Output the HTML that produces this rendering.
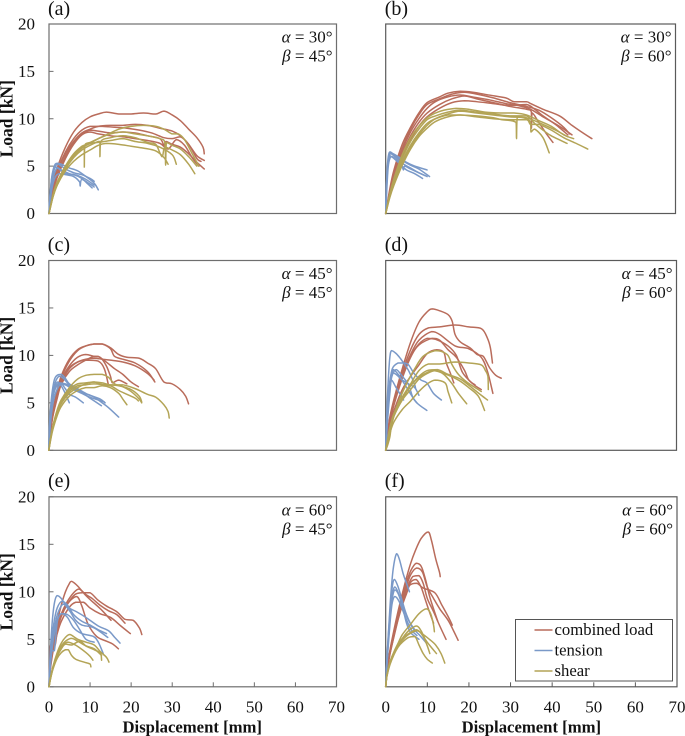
<!DOCTYPE html>
<html lang="en">
<head>
<meta charset="utf-8">
<title>Load-displacement curves</title>
<style>
html,body{margin:0;padding:0;background:#fff;}
svg{display:block;filter:blur(0.3px);}
text{font-family:"Liberation Serif",serif;fill:#111;}
</style>
</head>
<body>
<svg id="chart" xmlns="http://www.w3.org/2000/svg" width="685" height="736" viewBox="0 0 685 736"></svg>
<script>
const xTickLabels = [0, 10, 20, 30, 40, 50, 60, 70];
const yTickLabels = [0, 5, 10, 15, 20];
const seriesNames = ['combined load', 'tension', 'shear'];

const aCombined = [
 [[0,0],[1,3],[2,4.8],[4,7],[6,8.6],[8,9.6],[10,10.2],[12,10.5],[14,10.7],[17,10.5],[20,10.5],[23,10.6],[26,10.5],[28,10.8],[30,10.4],[32,9.8],[34,8.9],[36,8],[37.5,7],[37.8,6.3]],
 [[0,0],[1,2.7],[2,4.3],[4,6.3],[6,7.6],[8,8.5],[10,8.9],[12,9.2],[15,9.3],[18,9.3],[21,9.4],[24,9.3],[27,9],[30,8.7],[32,8.2],[34,7.3],[36,6.1],[37.8,5.6]],
 [[0,0],[1,2.5],[2,4],[4,6],[6,7.5],[8,8.4],[10,8.8],[12,8.7],[15,8.5],[18,8.6],[21,8.5],[24,8.2],[27,7.9],[28,7.2],[28.5,7.6],[30,7.3],[32,7],[34,6.3],[36,5.4],[37.8,4.7]],
 [[0,0],[1,2.3],[2,3.8],[4,5.8],[6,7.3],[8,8.3],[10,8.6],[12,8.4],[15,8.2],[18,8.1],[21,7.9],[24,7.7],[27,7.4],[29,6.8],[31,7.8],[33,7.2],[35,5.8],[36.5,5]],
 [[0,0],[1,2.9],[2,4.5],[4,6.5],[6,7.9],[8,8.8],[10,9.2],[13,9.2],[16,9.1],[19,9],[22,8.8],[25,8.5],[28,8],[30,7.9],[32,8.1],[34,7.3],[36,5.8],[37,5.5]]
];
const aTension = [
 [[0,0],[0.3,2],[0.6,3.6],[1,4.6],[1.5,5.2],[2,5.3],[3,5.2],[4,5],[5,4.8],[7,4.5],[9,3.9],[11,3.2],[12,2.5]],
 [[0,0],[0.3,2.2],[0.7,3.8],[1.2,4.7],[1.8,4.9],[3,4.6],[5,4.2],[7,4],[9,3.6],[11,3]],
 [[0,0],[0.3,1.8],[0.8,3.3],[1.3,4.2],[2,4.8],[3,4.5],[4,4.2],[6,4.1],[8,3.7],[9.5,3.1],[10.5,2.7]],
 [[0,0],[0.4,1.7],[0.9,3],[1.6,3.9],[2.5,4.2],[4,4.1],[6,3.9],[7.5,3.3],[7.6,2.9],[8,3.6],[10,3.1],[11,2.8]],
 [[0,0],[0.3,2.1],[0.8,3.7],[1.4,4.8],[2.2,5.2],[4,4.7],[6,4.3],[8,4.1],[10,3.7],[11,3.4]]
];
const aShear = [
 [[0,0],[1,2],[2,3.3],[4,5],[6,6.2],[8,7],[10,7.4],[12,7.9],[14,8.3],[17,8.9],[20,9.2],[23,9.3],[26,9.2],[28,8.9],[30,8.4],[31.5,8.4],[33,7.8],[35,6.2],[36.5,5]],
 [[0,0],[1,2],[2,3.3],[4,5],[6,6.3],[8,7.1],[8.6,7.2],[8.6,4.9],[8.7,7.2],[10,7.5],[12,7.9],[15,8.4],[18,8.6],[21,8.4],[24,8.2],[27,7.9],[28.2,7.5],[28.4,5.1],[28.6,7.5],[30,7.2],[32,6.8],[34,6],[36,5]],
 [[0,0],[1,1.8],[2,3],[4,4.7],[6,5.9],[8,6.7],[10,7.2],[12,7.6],[12.4,7.6],[12.4,6],[12.6,7.6],[15,8],[18,8.2],[21,8],[24,7.5],[26,7.3],[27.5,6],[28.2,7],[30,6.7],[32,6.2],[34,5.2],[35.5,4.2]],
 [[0,0],[1,1.8],[2,3],[4,4.5],[6,5.5],[8,6.2],[10,6.7],[12,7.2],[14,7.4],[17,7.3],[20,7.1],[23,6.9],[26,6.6],[28,5.9],[29,5.2]],
 [[0,0],[1,1.9],[2,3.2],[4,4.9],[6,6.1],[8,6.9],[10,7.4],[12,7.5],[15,7.7],[18,7.9],[21,7.6],[24,7.4],[27,7],[30,6.2],[31,5.2]]
];

const bCombined = [
 [[0,0],[1,2.6],[2,4.6],[4,7.3],[6,9.1],[8,10.6],[10,11.7],[13,12.3],[15,12.7],[18,12.9],[21,12.8],[25,12.5],[29,12.2],[31,11.8],[34,11.8],[35,11.6],[38,11],[42,10.3],[45,9.3],[48,8.4],[49.8,7.9]],
 [[0,0],[1,2.4],[2,4.3],[4,6.9],[6,8.9],[8,10.4],[10,11.5],[13,12.1],[16,12.6],[19,12.8],[22,12.6],[26,12.2],[30,11.7],[34,11.3],[37,10.9],[40,10.1],[43,9.1],[44.4,8.4]],
 [[0,0],[1,2.2],[2,3.9],[4,6.4],[6,8.2],[8,9.6],[10,10.6],[13,11.5],[16,12.1],[19,12.4],[22,12.1],[26,11.7],[30,11.3],[34,11],[35.2,10.7],[35.2,9],[35.4,10.6],[37,9.6],[39,8.3],[40.4,7.5]],
 [[0,0],[1,2],[2,3.6],[4,6],[6,7.8],[8,9.2],[10,10.2],[13,11.1],[16,11.7],[19,11.9],[22,11.8],[26,11.6],[30,11.4],[34,11.5],[36,11],[38,10.3],[41,9.4],[44,8.3]],
 [[0,0],[1,2.3],[2,4.1],[4,6.7],[6,8.6],[8,10],[10,11.1],[12,11.8],[15,12.3],[18,12.5],[21,12.3],[25,12],[29,11.6],[32,11.4],[35,11],[38,10.2],[42,9.2],[45,8.3]]
];
const bTension = [
 [[0,0],[0.2,3],[0.4,5],[0.7,6.2],[1.1,6.5],[2,6.2],[4,5.6],[6,5.1],[8,4.7],[10.6,3.9]],
 [[0,0],[0.2,2.6],[0.5,4.8],[0.8,5.9],[1.2,6.3],[2.5,5.9],[4,5.3],[6,4.8],[8,4.3],[10,3.9]],
 [[0,0],[0.2,2.8],[0.4,4.6],[0.7,5.7],[1,6.1],[2,5.8],[3.5,5.2],[5,4.6],[7,4.2],[8.9,3.7]],
 [[0,0],[0.2,3.2],[0.5,5.2],[0.8,6.1],[1.3,6.4],[3,6],[5,5.4],[7,5],[10,4.6]],
 [[0,0],[0.3,2.8],[0.6,4.9],[1,5.8],[1.6,6],[3,5.5],[4,4.9],[4.3,4.6],[4.6,5],[6,4.7],[8,4.3],[9.5,4]]
];
const bShear = [
 [[0,0],[1,2.1],[2,3.7],[4,6.2],[6,8],[8,9.2],[10,10.1],[12,10.6],[14,10.9],[17,11.1],[20,11],[24,10.7],[28,10.6],[31,10.6],[34,10.4],[37,9.8],[40,9.2],[43,8.3],[45.4,7.9]],
 [[0,0],[1,2],[2,3.5],[4,5.8],[6,7.6],[8,8.9],[10,9.9],[12,10.3],[15,10.7],[18,10.9],[22,10.7],[26,10.5],[30,10.3],[34,10.3],[36,9.5],[38,8.8],[40,8.2],[43.8,7.4]],
 [[0,0],[1,1.9],[2,3.3],[4,5.5],[6,7.2],[8,8.5],[10,9.5],[12,10],[15,10.4],[18,10.4],[22,10.3],[26,10.1],[28,9.9],[31.5,9.6],[31.6,7.9],[31.8,10.2],[34,10],[35,9.6],[35.1,8.6],[36,8.9],[38,8],[39.5,6.4]],
 [[0,0],[1,1.7],[2,3],[4,5.1],[6,6.8],[8,8.1],[10,9],[12,9.7],[15,10.2],[18,10.4],[22,10.2],[26,10],[30,9.9],[34,9.9],[35,9.4],[37,9.4],[40,8.8],[43,8],[46,7.4],[48.8,6.8]],
 [[0,0],[1,1.8],[2,3.2],[4,5.3],[6,7],[8,8.3],[10,9.3],[12,10],[15,10.5],[18,10.8],[22,10.6],[26,10.4],[30,10.2],[34,10.1],[38,9.4],[41,8.8],[44,8.1]]
];

const cCombined = [
 [[0,0],[0.5,2.5],[1,4.2],[2,6.2],[3,7.8],[5,9.6],[7,10.6],[9,11],[11,11.2],[13,11.2],[15,10.8],[17,10.1],[19,9.8],[22,9.7],[24,9.2],[26,8.6],[28,7.2],[30,7],[32,6.4],[33.3,5.7],[34,4.9]],
 [[0,0],[0.5,2.4],[1,4],[2,6],[3,7.6],[5,9.4],[7,10.5],[9,11],[11,11.2],[13,11.2],[15,10.7],[16,9.9],[18,9.6],[21,9.2],[24,8.3],[25.8,7.2]],
 [[0,0],[0.5,2.3],[1,3.9],[2,5.8],[3,7.4],[5,8.9],[7,9.8],[9,10.1],[11,9.9],[12,9.9],[14,9.3],[16,8.6],[18,8],[20,7.2],[21.8,6.7]],
 [[0,0],[0.5,2.2],[1,3.7],[2,5.6],[3,7.1],[5,8.6],[7,9.3],[9,9.6],[11,9.7],[13,9.6],[15,9.5],[18,9.3],[21,8.9],[24,8.1],[25.6,7.4]],
 [[0,0],[0.5,2.1],[1,3.6],[2,5.4],[3,6.9],[5,8.3],[7,9],[9,9.5],[11,9.9],[12.5,9.8],[14,8.9],[15,7.8],[15.5,7.1],[17,7.4],[19,7]],
 [[0,0],[0.5,2.3],[1,3.8],[2,5.7],[3,7.2],[5,8.7],[7,9.3],[9,9.5],[12,9.4],[13.5,8.6],[14.5,6.9]]
];
const cTension = [
 [[0,0],[0.2,2.6],[0.5,4.8],[0.9,6.4],[1.4,7.5],[2,7.9],[3,8],[4,7.6],[5,7],[7,6.5],[9,6],[11,5.6],[13,5],[14.5,4.5],[17,3.5]],
 [[0,0],[0.2,2.4],[0.5,4.3],[1,6],[1.6,7.2],[2.5,7.8],[3.5,7.6],[5,6.9],[7,6.3],[10,5.8],[12.5,5.4],[13.7,5]],
 [[0,0],[0.3,2.6],[0.6,4.2],[1.1,5.7],[1.7,6.7],[2.5,7.1],[4,7],[6,6.6],[8,6.1],[10,5.5],[12.8,4.7]],
 [[0,0],[0.3,2.2],[0.7,4],[1.2,5.3],[2,6.4],[3,7],[4,6.5],[5,5.9],[6.5,5.6],[8.4,5]],
 [[0,0],[0.2,2.8],[0.5,4.5],[0.9,5.8],[1.5,6.8],[2.2,7.2],[3,6.8],[4,6],[5,5]],
 [[0,0],[0.3,2.4],[0.6,4.3],[1,5.6],[1.5,6.4],[2.5,7],[4,6.9],[6,6.4],[8,6],[10,5.6],[13.5,5.1]]
];
const cShear = [
 [[0,0],[0.5,1.5],[1,2.6],[2,4.2],[3,5.3],[5,6.6],[7,7.5],[9,7.9],[11,8],[13,8],[14.5,7.7],[16,7],[18,6.7],[20,6.2],[22,5.4],[22.6,5]],
 [[0,0],[0.5,1.4],[1,2.5],[2,4],[3,5.1],[5,6.4],[7,7],[9,7.1],[11,7.2],[13,7.1],[15,6.9],[18,6.9],[21,6.5],[24,5.9],[26,5.6],[28,4.8],[29,4.1],[29.3,3.4]],
 [[0,0],[0.5,1.3],[1,2.4],[2,3.8],[3,4.9],[5,6],[7,6.6],[9,7],[11,7.2],[13,6.9],[15,6.8],[17,6.3],[19,5.9],[21,5.5],[21.8,5.2]],
 [[0,0],[0.5,1.2],[1,2.2],[2,3.6],[3,4.6],[5,5.7],[7,6.3],[9,6.6],[11,6.6],[13,6.8],[15,6.6],[17,6],[18,5.4],[19,4.8]],
 [[0,0],[0.5,1.4],[1,2.4],[2,3.9],[3,5],[5,6.2],[7,6.8],[9,6.9],[11,7],[14,6.9],[17,6.8],[20,6.4],[22,5.7],[22.6,5.1]]
];

const dCombined = [
 [[0,0],[0.5,2],[1,3.5],[2,5.4],[4,8.6],[6,11.4],[8,13.5],[10,14.6],[11.2,14.9],[13,14.7],[15,14.3],[16,13.6],[16.7,12.2],[18,11.4],[20.3,10.8],[22,10.1],[23.5,9.9],[25,8.7],[26.5,7.9],[27.8,7.6]],
 [[0,0],[0.5,1.8],[1,3.3],[2,5.2],[4,8.2],[6,10.6],[8,12.2],[10.3,12.9],[13,13],[16.7,13.2],[20,13],[23.1,12.8],[24.5,11.8],[25.2,10.8],[25.7,9.2]],
 [[0,0],[0.5,1.7],[1,3.1],[2,5],[4,7.9],[6,10.1],[8,11.6],[11,12.5],[13,12.2],[16.7,11],[20,10.7],[23,9.8],[24.5,8.3],[25.8,6]],
 [[0,0],[0.5,1.6],[1,3],[2,4.8],[4,7.6],[6,9.8],[8,11.1],[11.2,11.8],[13,11.6],[15,10.6],[17,9.8],[19,8.4],[20,7.4],[21.5,6.9]],
 [[0,0],[0.5,1.7],[1,3.1],[2,4.9],[4,7.8],[6,9.9],[8,11.2],[10,11.8],[12,11.7],[15,11],[17,10],[18.5,8.2],[21,7],[23,6.4]],
 [[0,0],[0.5,1.5],[1,2.7],[2,4.2],[4,6.4],[6,7.8],[8,9],[10,10.2],[12.3,10.6],[14,10.3],[14.6,9.2],[15.5,8.2],[16.4,7.1]]
];
const dTension = [
 [[0,0],[0.2,3],[0.4,5.4],[0.7,8],[1,9.8],[1.4,10.5],[2.5,10.2],[3.5,9.7],[4.3,9.2],[5.5,8.4],[7,6.9],[7.2,6.5]],
 [[0,0],[0.3,2.8],[0.6,5],[1,7],[1.6,8.6],[3,9.2],[4.5,9.2],[5.5,9],[7,8],[8.5,7.4],[9.9,7.1],[11.5,6],[13.4,5.3]],
 [[0,0],[0.3,2.5],[0.6,4.6],[1,6.6],[1.8,8.5],[3,8],[4.5,7],[5.9,6],[7.5,5],[9.9,4.2]],
 [[0,0],[0.3,2.2],[0.6,4],[1,6],[1.4,7.4],[2.5,6.6],[3.5,5.9],[4.3,5.3]],
 [[0,0],[0.2,2.6],[0.5,4.8],[0.9,7],[1.5,8.2],[2.5,8],[4,7.4],[5.5,7],[7,6.6],[8,5.8]],
 [[0,0],[0.3,2.4],[0.6,4.4],[1,6.4],[1.5,7.8],[2.5,8.5],[4,7.8],[5.5,6.9],[6.5,5.6],[7.5,5]]
];
const dShear = [
 [[0,0],[0.5,0.6],[1,1.4],[1.5,2.8],[3,5],[5,7],[7,8.6],[9,9.9],[11.9,10.5],[13.5,10.4],[15,10],[16,9],[17.5,8],[19.5,7.2],[22.3,6.4],[23,6.2]],
 [[0,0],[0.5,1],[1,2.2],[2,3.8],[4,5.6],[6,7],[8,8.4],[10.3,9.1],[13,9.1],[16.7,9.3],[20,9.2],[23,9],[24,8.4],[24.6,7.8],[24.7,6.4]],
 [[0,0],[0.5,1.2],[1,2.4],[2,3.9],[4,5.6],[6,6.8],[8,7.7],[10,8.2],[11.5,8.4],[14,8.1],[17.5,7.4],[20,6.6],[22.3,5.7],[23.8,4.2]],
 [[0,0],[0.5,1],[1,1.8],[2,3],[4,4.3],[6,5.2],[8,6.2],[10,7],[11.9,7.4],[14.3,7.1],[15,6.2],[15.9,5]],
 [[0,0],[0.5,1.1],[1,2.2],[2,3.6],[4,5.3],[6,6.4],[8,7.5],[10,8.1],[12,8.4],[14,8],[16,7],[17.5,6],[19.5,4.9]],
 [[0,0],[0.5,1.2],[1,2.3],[2,3.8],[4,5.4],[6,6.8],[8,7.8],[10,8.4],[12.5,8.5],[15,8],[18,7.5],[21,6.5],[23,5.8],[24.5,5.3]]
];

const eCombined = [
 [[0,0],[0.3,2],[0.7,3.6],[1.2,5],[2,6.8],[3,8.6],[4,10],[5,10.9],[5.5,11.1],[7,10.6],[9,9.6],[11,8.8],[13,8],[15.1,7]],
 [[0,0],[0.3,1.9],[0.7,3.4],[1.2,4.8],[2,6.3],[3,7.7],[4.5,9],[6,9.9],[7.3,10.3],[9,9.7],[10.5,9.3],[12.4,8.6],[14.5,8],[16.5,7.6],[18.5,6.7]],
 [[0,0],[0.3,1.8],[0.7,3.2],[1.2,4.6],[2,6],[3,7.4],[4.5,8.7],[6.3,9.7],[8,9.9],[10,9.9],[12,9.1],[14,8.5],[16.5,7.9],[18.5,7.1],[20.5,7],[22,6.2],[22.6,5.5]],
 [[0,0],[0.3,1.7],[0.7,3],[1.2,4.2],[2,5.6],[3,6.9],[5,8.4],[6.5,8.9],[8.4,8.9],[10,8.3],[12.4,7.7],[15,7.3],[17.5,6.4],[19.8,5.6]],
 [[0,0],[0.2,3],[0.4,4.4],[1.5,4.4],[2.2,6.5],[3.5,8],[5,9],[6.8,9.5],[8,8.5],[9.5,6.6],[11.6,5.3],[14,4.8],[15.5,4.5],[16.9,4]]
];
const eTension = [
 [[0,0],[0.2,2.5],[0.5,5],[0.9,7.4],[1.4,9],[2,9.6],[3,9.3],[4.5,8.4],[6.7,7.9],[9,7.3],[12,6.4],[14.5,5.9],[16,5.2],[17.3,4.6]],
 [[0,0],[0.3,2.6],[0.7,5],[1.3,7],[2,8.3],[3.1,9],[4.5,8.6],[6,7.6],[8,6.9],[10,6.5],[12,6],[14,5.6]],
 [[0,0],[0.3,2.2],[0.7,4.2],[1.3,6.2],[2.2,7.8],[3.5,8.7],[5,8],[6.5,7],[8,6.5],[11,6.2],[14.3,5.2]],
 [[0,0],[0.2,2.2],[0.5,3.8],[1.3,3.8],[1.8,6],[2.2,7.2],[3.1,7.7],[4.5,7.3],[6,6.2],[8,5.6],[10.8,5.3],[12,4.7],[13.2,3.5]],
 [[0,0],[0.3,2],[0.7,3.8],[1.3,5.6],[2,7],[3,7.7],[4.5,7.6],[6,7],[7.5,6],[9,5],[11,4.7]]
];
const eShear = [
 [[0,0],[0.4,1],[1,2.2],[2,3.6],[3,4.6],[4,5.2],[5.1,5.5],[7,5],[9,4.7],[11,4.4],[12.5,3.7],[14,3.1],[14.6,2.6]],
 [[0,0],[0.4,1],[1,2.1],[2,3.4],[3,4.3],[4,4.8],[5.5,5.1],[7,4.8],[9,4.3],[11,4],[12.8,3.3]],
 [[0,0],[0.4,0.9],[1,2],[2,3.2],[3,4],[4,4.5],[5.5,4.4],[7.5,4.8],[9,4.3],[11,3.9],[12.6,3.5],[12.8,2.8]],
 [[0,0],[0.4,0.9],[1,1.9],[2,3],[3,3.6],[4,3.9],[4.7,3.9],[5.5,3.3],[6.5,2.9],[8.5,2.6],[10,2.4],[10.2,2.1]],
 [[0,0],[0.4,1],[1,2.1],[2,3.3],[3,4.2],[4.5,4.7],[6,4.5],[7.5,4.1],[9,3.6],[10,3.2],[10.7,2.8]]
];

const fCombined = [
 [[0,0],[0.4,2],[1,3.8],[2,6],[3,8],[4,9.8],[5,11.5],[6,13],[7,14.2],[8.5,15.6],[10.2,16.3],[11,15.4],[12,13.5],[12.9,12.1],[13.1,11.6]],
 [[0,0],[0.4,2],[1,3.7],[2,5.8],[3,7.7],[4,9.4],[5,11],[6,12.2],[7.3,13],[8.5,12.7],[9.5,11.4],[10.5,9.6],[11.5,8.2],[12.5,6.9]],
 [[0,0],[0.4,1.9],[1,3.6],[2,5.6],[3,7.5],[4,9.1],[5,10.6],[6,11.8],[7.4,12.5],[8.8,12.1],[10,10.5],[11.5,9.3],[13,8.2],[15,7],[16.3,5.9],[17.4,4.9]],
 [[0,0],[0.4,1.9],[1,3.6],[2,5.6],[3,7.4],[4,8.9],[5,10.3],[6.5,11.6],[8,11.7],[9,10.9],[10,9.3],[11.5,7.9],[13,6.4],[14.5,5]],
 [[0,0],[0.4,1.8],[1,3.4],[2,5.3],[3,7.1],[4,8.6],[5,9.8],[5.8,10.7],[7.5,10.9],[9,10.4],[11.8,9.9],[13.5,8.6],[15,7.4],[16,6.5]],
 [[0,0],[0.4,1.8],[1,3.4],[2,5.4],[3,7.2],[4,8.7],[5,9.9],[6,11],[7.3,11.3],[8.5,10.5],[9.5,9.2],[10.5,7.9],[11.5,6.7]]
];
const fTension = [
 [[0,0],[0.3,3],[0.7,6],[1.2,9.5],[1.8,12.4],[2.6,14],[3.3,13.4],[4.2,11.9],[5,10.9],[5.7,10]],
 [[0,0],[0.3,2.8],[0.7,5.8],[1.2,8.8],[1.6,10.6],[2.1,11.3],[3,10.5],[4,9],[5,7.6],[6.5,6.2],[8,5.5],[9.8,4.6]],
 [[0,0],[0.3,2.6],[0.7,5.4],[1.2,8.2],[1.7,9.9],[2.2,10.5],[3,9.9],[4,8.5],[5,6.7],[6,5.7],[8,5]],
 [[0,0],[0.3,2.5],[0.7,5.2],[1.2,8],[1.7,9.6],[2.2,10.2],[3,9.8],[4,8.6],[5.5,7],[7,6]],
 [[0,0],[0.3,2.3],[0.7,4.8],[1.2,7.5],[1.6,8.9],[2.2,9.5],[3.2,9],[4.5,7.6],[6,6.1],[7.5,5.4]]
];
const fShear = [
 [[0,0],[0.3,1.3],[1,2.6],[2,3.7],[3,4.6],[4,5.5],[6,6.6],[8,7.7],[9.8,8.2],[10.8,7.7],[11.5,6.5],[11.7,5.8]],
 [[0,0],[0.3,1.2],[1,2.5],[2,3.6],[3,4.5],[4,5.1],[5.5,5.9],[7.4,6.4],[8.5,5.9],[9.5,5],[10.5,4.4],[12.2,3.5]],
 [[0,0],[0.3,1.2],[1,2.4],[2,3.5],[3,4.3],[4,4.9],[5.5,5.5],[7.5,5.9],[9,5.5],[10.5,5],[12,4.4],[13.3,3.5],[14.2,2.5]],
 [[0,0],[0.3,1.1],[1,2.3],[2,3.4],[3,4.2],[4,4.7],[5.5,5.2],[7,5.3],[8,4.4],[9,3.5],[10,2.9],[11.2,2.5]],
 [[0,0],[0.3,1.2],[1,2.4],[2,3.6],[3,4.4],[4,5],[5.5,5.6],[7.5,6],[9,5.3],[10,4.3],[10.6,3.5]]
];

const NS = 'http://www.w3.org/2000/svg';
const svg = document.getElementById('chart');
const xMax = 70, yMax = 20;
const seriesColors = ['#b96c5b', '#7a99c8', '#b3a456'];

const panels = [
 {id:'a',left:49,right:336.5,top:24,bottom:213.5,data:[aCombined,aTension,aShear],alpha:30,beta:45,yTicks:true,yLabels:true,xTicks:false,xLabels:false,label:'(a)',labelY:15,frame:'#6e6e6e'},
 {id:'b',left:385.7,right:675.5,top:24,bottom:213.5,data:[bCombined,bTension,bShear],alpha:30,beta:60,yTicks:false,yLabels:false,xTicks:false,xLabels:false,label:'(b)',labelY:15,frame:'#5a5a5a'},
 {id:'c',left:48.8,right:336.5,top:260.5,bottom:450.3,data:[cCombined,cTension,cShear],alpha:45,beta:45,yTicks:true,yLabels:true,xTicks:false,xLabels:false,label:'(c)',labelY:251,frame:'#6e6e6e'},
 {id:'d',left:385.7,right:676.5,top:260.5,bottom:450.3,data:[dCombined,dTension,dShear],alpha:45,beta:60,yTicks:false,yLabels:false,xTicks:false,xLabels:false,label:'(d)',labelY:251,frame:'#5a5a5a'},
 {id:'e',left:49,right:336.5,top:496.8,bottom:686.8,data:[eCombined,eTension,eShear],alpha:60,beta:45,yTicks:true,yLabels:true,xTicks:true,xLabels:true,label:'(e)',labelY:487,frame:'#6e6e6e'},
 {id:'f',left:385.7,right:677,top:496.8,bottom:686.8,data:[fCombined,fTension,fShear],alpha:60,beta:60,yTicks:false,yLabels:false,xTicks:true,xLabels:true,label:'(f)',labelY:487,frame:'#5a5a5a'}
];

function el(tag, attrs, parent) {
  const node = document.createElementNS(NS, tag);
  for (const k in attrs) node.setAttribute(k, attrs[k]);
  parent.appendChild(node);
  return node;
}

function clamp(v, a, b) {
  const lo = Math.min(a, b), hi = Math.max(a, b);
  return Math.max(lo, Math.min(hi, v));
}

function smoothPath(pts) {
  let d = 'M' + pts[0][0].toFixed(2) + ',' + pts[0][1].toFixed(2);
  for (let i = 0; i < pts.length - 1; i++) {
    const p0 = pts[i - 1] || pts[i], p1 = pts[i], p2 = pts[i + 1], p3 = pts[i + 2] || p2;
    const c1x = clamp(p1[0] + (p2[0] - p0[0]) / 6, p1[0], p2[0]);
    const c1y = clamp(p1[1] + (p2[1] - p0[1]) / 6, p1[1], p2[1]);
    const c2x = clamp(p2[0] - (p3[0] - p1[0]) / 6, p1[0], p2[0]);
    const c2y = clamp(p2[1] - (p3[1] - p1[1]) / 6, p1[1], p2[1]);
    d += 'C' + c1x.toFixed(2) + ',' + c1y.toFixed(2) + ' ' + c2x.toFixed(2) + ',' + c2y.toFixed(2) + ' ' + p2[0].toFixed(2) + ',' + p2[1].toFixed(2);
  }
  return d;
}

panels.forEach(function (p) {
  const xScale = function (v) { return p.left + (v / xMax) * (p.right - p.left); };
  const yScale = function (v) { return p.bottom - (v / yMax) * (p.bottom - p.top); };

  const g = el('g', {}, svg);
  
  

  const frame = el('rect', {x: p.left, y: p.top, width: p.right - p.left, height: p.bottom - p.top, fill: '#fff', stroke: p.frame, 'stroke-width': 1.2}, g);
  
  

  if (p.yTicks) {
    yTickLabels.forEach(function (t) {
      const tick = el('line', {x1: p.left, x2: p.left + 4.5, y1: yScale(t), y2: yScale(t), stroke: p.frame, 'stroke-width': 1}, g);
      
      
    });
  }
  if (p.yLabels) {
    yTickLabels.forEach(function (t) {
      const lab = el('text', {x: 35, y: yScale(t) + 5.6, 'text-anchor': 'end', 'font-size': 17}, g);
      lab.textContent = t;
      
      
    });
    const title = el('text', {transform: 'translate(12.5,' + ((p.top + p.bottom) / 2) + ') rotate(-90)', 'text-anchor': 'middle', 'font-size': 17.5, 'font-weight': 'bold'}, g);
    title.textContent = 'Load [kN]';
    
    
  }
  if (p.xTicks) {
    xTickLabels.forEach(function (t) {
      const tick = el('line', {x1: xScale(t), x2: xScale(t), y1: p.bottom, y2: p.bottom - 4.5, stroke: p.frame, 'stroke-width': 1}, g);
      
      
    });
  }
  if (p.xLabels) {
    xTickLabels.forEach(function (t) {
      const lab = el('text', {x: xScale(t), y: p.bottom + 25.5, 'text-anchor': 'middle', 'font-size': 17}, g);
      lab.textContent = t;
      
      
    });
    const title = el('text', {x: (p.left + p.right) / 2 + (p.id === 'e' ? -0.5 : 0), y: p.bottom + 45.5, 'text-anchor': 'middle', 'font-size': 16.7, 'font-weight': 'bold'}, g);
    title.textContent = 'Displacement [mm]';
    
    
  }

  p.data.forEach(function (curves, s) {
    curves.forEach(function (curve) {
      const pts = curve.map(function (pt) { return [xScale(pt[0]), yScale(pt[1])]; });
      const line = el('path', {d: smoothPath(pts), fill: 'none', stroke: seriesColors[s], 'stroke-width': 1.5, 'stroke-linejoin': 'round', 'stroke-linecap': 'round'}, g);
      
      
    });
  });

  const lab = el('text', {x: p.left - 1, y: p.labelY, 'font-size': 20}, g);
  lab.textContent = p.label;
  
  

  const ax = p.right - 4;
  const a1 = el('text', {x: ax, y: p.top + 18.5, 'text-anchor': 'end', 'font-size': 17}, g);
  a1.innerHTML = '<tspan font-style="italic">α</tspan> = ' + p.alpha + '°';
  
  
  const a2 = el('text', {x: ax, y: p.top + 37.5, 'text-anchor': 'end', 'font-size': 17}, g);
  a2.innerHTML = '<tspan font-style="italic">β</tspan> = ' + p.beta + '°';
  
  
});

const legend = el('g', {}, svg);


const legendBox = el('rect', {x: 515.5, y: 619.5, width: 157, height: 61.5, fill: '#fff', stroke: '#555', 'stroke-width': 1}, legend);


seriesNames.forEach(function (name, i) {
  const cy = 630 + i * 20.5;
  const sw = el('line', {x1: 534.5, x2: 552.5, y1: cy, y2: cy, stroke: seriesColors[i], 'stroke-width': 1.5}, legend);
  
  
  const t = el('text', {x: 554.5, y: cy + 5.2, 'font-size': 16.7}, legend);
  t.textContent = name;
  
  
});
</script>
</body>
</html>
